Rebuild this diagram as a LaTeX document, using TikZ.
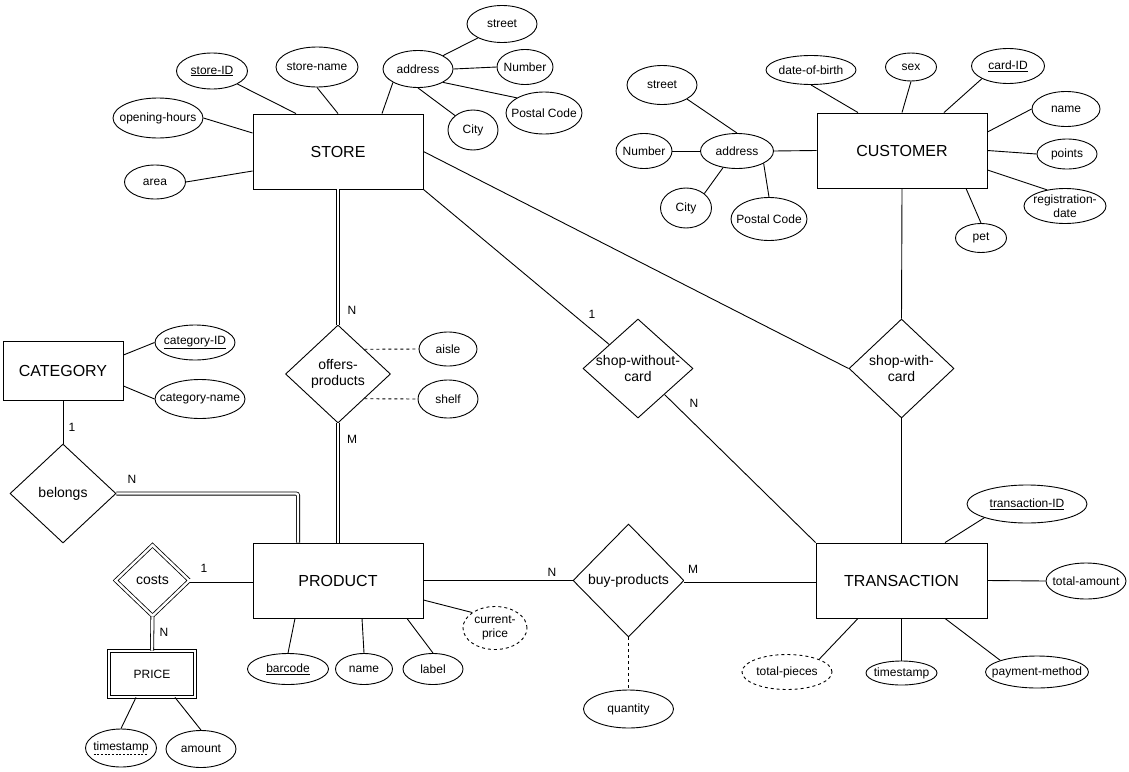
\documentclass[tikz,border=0pt]{standalone}
\usepackage{fontspec}
\setmainfont{Liberation Sans}
\usepackage{tikz}
\usetikzlibrary{shapes.geometric}
\def\attrfont{\fontsize{12}{13.5}\selectfont}
\newcommand\dashunder[1]{\setbox0\hbox{#1}\rlap{\lower\dimexpr\dp0+1.6pt\relax\hbox to \wd0{\xleaders\hbox{\vrule width 2pt height 0.5pt\kern 1.5pt}\hfill}}\box0}
\tikzset{
	entity/.style={draw, rectangle, inner sep=0pt, minimum width=170pt, minimum height=75pt, font=\fontsize{16}{19}\selectfont},
	attr/.style 2 args={draw, ellipse, inner xsep=-20pt, inner ysep=-10pt, minimum width=#1pt, minimum height=#2pt, align=center, font=\attrfont},
	rel/.style 2 args={draw, diamond, inner xsep=-20pt, inner ysep=-10pt, minimum width=#1pt, minimum height=#2pt, align=center, font=\fontsize{14}{16}\selectfont},
	card/.style={inner sep=0pt, font=\attrfont},
	twin/.style={double, double distance=2.4pt, line width=0.8pt},
}

\begin{document}
\begin{tikzpicture}[x=1pt, y=-1pt, line width=0.9pt]
			%%%%% START %%%%%
			\useasboundingbox (0,0) rectangle (1129,771);
			
			\node[entity] (store) at (338,151.5) {STORE};
			\node[attr={71}{36}] (sid) at (212,71) {\underline{store-ID}};
			\node[attr={82}{40}] (sname) at (317,67) {store-name};
			\node[attr={70}{37}] (saddr) at (418,69) {address};
			\node[attr={70}{37}] (sstreet) at (502,24) {street};
			\node[attr={56}{35}] (snum) at (525,67) {Number};
			\node[attr={76}{42}] (spost) at (544,113) {Postal Code};
			\node[attr={50}{40}] (scity) at (473,130) {City};
			\node[attr={90}{40}] (shours) at (158,118) {opening-hours};
			\node[attr={61}{34}] (sarea) at (155,182) {area};
			
			\draw (sid.south east) -- ([xshift=-42pt]store.north);
			\draw (sname.south) -- (store.north);
			\draw (saddr.south west) -- ([xshift=44pt]store.north);
			\draw (shours.east) -- ([yshift=18.5pt]store.west);
			\draw (sarea.east) -- ([yshift=-19.5pt]store.west);
			\draw (saddr.north east) -- (sstreet.210);
			\draw (saddr.east) -- (snum.west);
			\draw (saddr.south east) -- (spost.north west);
			\draw (saddr.south) -- (scity.north west);
			
			\node[entity] (cust) at (902,150.5) {CUSTOMER};
			\node[attr={90}{29}] (dob) at (811,70) {date-of-birth};
			\node[attr={51}{28}] (sex) at (911,67) {sex};
			\node[attr={73}{35}] (cid) at (1008,66) {\underline{card-ID}};
			\node[attr={68}{35}] (cname) at (1066,109) {name};
			\node[attr={60}{30}] (points) at (1067,154) {points};
			\node[attr={82}{35}] (regdate) at (1065,206) {registration-\\date};
			\node[attr={51}{29}] (pet) at (981,238) {pet};
			\node[attr={73}{35}] (caddr) at (737,151) {address};
			\node[attr={70}{39}] (cstreet) at (662,85) {street};
			\node[attr={56}{35}] (cnum) at (644,151) {Number};
			\node[attr={51}{40}] (ccity) at (686,208) {City};
			\node[attr={76}{43}] (cpost) at (769,219) {Postal Code};
			
			\draw (dob.south) -- ([xshift=-44pt]cust.north);
			\draw (sex.south) -- (cust.north);
			\draw (cid.south west) -- ([xshift=42pt]cust.north);
			\draw (cname.west) -- ([yshift=18.5pt]cust.east);
			\draw (points.west) -- (cust.east);
			\draw (regdate.138) -- ([yshift=-19.5pt]cust.east);
			\draw (pet.north) -- ([xshift=64pt]cust.south);
			\draw (caddr.east) -- (cust.west);
			\draw (cstreet.south east) -- (caddr.north);
			\draw (cnum.east) -- (caddr.west);
			\draw (ccity.north east) -- (caddr.230);
			\draw (cpost.north) -- (caddr.335);
			
			\node[entity, minimum width=120pt, minimum height=59pt] (cat) at (63,370.5) {CATEGORY};
			\node[attr={80}{35}] (catid) at (195,342.5) {\underline{category-ID}};
			\node[attr={90}{39}] (catname) at (200,399) {category-name};
			\draw (catid.west) -- ([yshift=15.5pt]cat.east);
			\draw (catname.west) -- ([yshift=-15.5pt]cat.east);
			
			\node[entity] (prod) at (338,580.5) {PRODUCT};
			\node[attr={81}{31}] (barcode) at (288,669) {\underline{barcode}};
			\node[attr={57}{31}] (pname) at (364,669) {name};
			\node[attr={60}{31}] (plabel) at (433,669) {label};
			\node[attr={64}{43}, dashed] (curprice) at (495,628) {current-\\price};
			
			\draw (barcode.north) -- ([xshift=-43pt]prod.south);
			\draw (pname.north) -- ([xshift=24pt]prod.south);
			\draw (plabel.north) -- ([xshift=69pt]prod.south);
			\draw (curprice.north west) -- ([yshift=-19.5pt]prod.east);
			
			\node[rel={106}{99}] (belongs) at (63,493.5) {belongs};
			\draw (cat.south) -- (belongs.north);
			\draw[twin, rounded corners=2pt] (belongs.east) -| ([xshift=-40pt]prod.north);
			\node[card] (cardCB) at (72,427) {1};
			\node[card] (cardBP) at (132,479) {N};
			
			\node[rel={105}{98}] (offers) at (338,374) {offers-\\products};
			\node[attr={58}{34}] (aisle) at (448,349) {aisle};
			\node[attr={60}{38}] (shelf) at (448,399) {shelf};
			\draw[twin] (store.south) -- (offers.north);
			\draw[twin] (offers.south) -- (prod.north);
			\draw[dashed] (offers.north east) -- (aisle.west);
			\draw[dashed] (offers.south east) -- (shelf.west);
			\node[card] (cardSO) at (352,310) {N};
			\node[card] (cardOP) at (352,439) {M};
			
			\node[rel={74}{71}, twin] (costs) at (152.5,580.5) {costs};
			\node[entity, twin, minimum width=86pt, minimum height=46pt, font=\fontsize{12}{14}\selectfont] (price) at (152,674) {PRICE};
			\node[attr={71}{38}] (ptime) at (121,748) {\dashunder{timestamp}};
			\node[attr={70}{37}] (amount) at (201,749) {amount};
			\draw[twin] (costs.east) -- (prod.west);
			\draw[twin] (costs.south) -- (price.north);
			\draw (ptime.north) -- ([xshift=-16pt]price.south);
			\draw (amount.north) -- ([xshift=23pt]price.south);
			\node[card] (cardCP) at (204,568) {1};
			\node[card] (cardCR) at (164,632) {N};
			
			\node[entity, minimum width=171pt] (trans) at (901.5,580.5) {TRANSACTION};
			\node[attr={120}{38}] (tid) at (1027,504) {\underline{transaction-ID}};
			\node[attr={80}{36}] (tamount) at (1086,581) {total-amount};
			\node[attr={103}{32}] (payment) at (1037,672) {payment-method};
			\node[attr={90}{35}, dashed] (tpieces) at (787,672) {total-pieces};
			\node[attr={71}{24}] (ttime) at (901.5,673) {timestamp};
			
			\draw (tid.south west) -- ([xshift=43.5pt]trans.north);
			\draw (tamount.west) -- (trans.east);
			\draw (payment.north west) -- ([xshift=43.5pt]trans.south);
			\draw (tpieces.north east) -- ([xshift=-43.5pt]trans.south);
			\draw (ttime.north) -- (trans.south);
			
			\node[rel={111}{113}] (buy) at (628.5,580.5) {buy-products};
			\node[attr={90}{38}] (qty) at (628.5,709) {quantity};
			\draw (prod.east) -- (buy.west);
			\draw[twin] (buy.east) -- (trans.west);
			\draw[dashed] (buy.south) -- (qty.north);
			\node[card] (cardPB) at (552,572) {N};
			\node[card] (cardBT) at (693,569) {M};
			
			\node[rel={110}{99}] (swo) at (638,368.5) {shop-without-\\card};
			\node[rel={105}{99}] (swc) at (901.5,368.5) {shop-with-\\card};
			\draw (store.south east) -- (swo);
			\draw (swo) -- (trans.north west);
			\draw (store.east) -- (swc.west);
			\draw (cust.south) -- (swc.north);
			\draw (swc.south) -- (trans.north);
			\node[card] (cardSW) at (592,314) {1};
			\node[card] (cardWT) at (694,403) {N};
			
			%%%%% END %%%%%
\end{tikzpicture}
\end{document}
